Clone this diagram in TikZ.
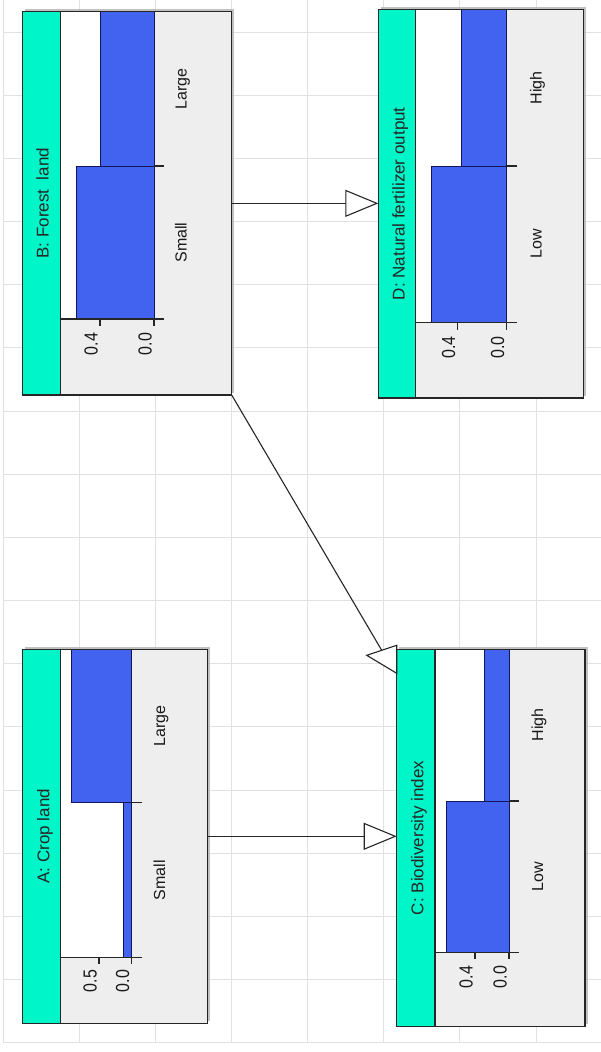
\documentclass[tikz,border=0pt]{standalone}
\usepackage{fontspec}
\setmainfont{Liberation Sans}
\usetikzlibrary{arrows.meta,shadows,calc}
\definecolor{mint}{RGB}{0,245,200}
\definecolor{barblue}{RGB}{66,99,240}
\definecolor{barline}{RGB}{20,20,90}
\definecolor{boxgrey}{RGB}{238,238,238}
\definecolor{gridgrey}{RGB}{225,225,225}
\newcommand{\tallnum}[1]{\scalebox{1}[1.18]{#1}}
\begin{document}
\begin{tikzpicture}[x=1pt,y=-1pt,
  gridline/.style={draw=gridgrey, line width=0.9pt},
  boxnode/.style={fill=boxgrey, draw=none, inner sep=0pt, outer sep=0pt,
     drop shadow={shadow xshift=2.5pt, shadow yshift=2.5pt, fill=black!30, opacity=0.8}},
  boxline/.style={draw=black!85, line width=1.4pt},
  bar/.style={fill=barblue, draw=barline, line width=1pt},
  axisline/.style={draw=black!85, line width=1.1pt},
  title/.style={rotate=90, anchor=base, inner sep=0pt, font=\fontsize{17}{17}\selectfont, text=black!85},
  lab/.style={rotate=90, anchor=base, inner sep=0pt, font=\fontsize{16}{16}\selectfont, text=black!90},
  tick/.style={rotate=90, anchor=base, inner sep=0pt, font=\fontsize{16}{16}\selectfont, text=black!90},
  conn/.style={draw=black!85, line width=1.1pt, -{Triangle[length=33pt, width=27pt, fill=white, line width=1.1pt]}},
  headline/.style={draw=black!85, line width=1.1pt, fill=white, line join=miter},
  connline/.style={draw=black!85, line width=1.1pt}
]
\useasboundingbox (0,0) rectangle (601,1052);
\fill[white] (0,0) rectangle (601,1052);
% grid
\foreach \i in {0,...,7} \draw[gridline] ({3.3+76.1*\i},0) -- ({3.3+76.1*\i},1042.7);
\foreach \j in {0,...,16} \draw[gridline] (3.3,{32+63.17*\j}) -- (601,{32+63.17*\j});

% ---------- B ----------
\node[boxnode, minimum width=209pt, minimum height=383.3pt, anchor=north west] (B) at (22.7,11.7) {};
\fill[white] (60.7,11.7) rectangle (154,319);
\fill[mint] (22.7,11.7) rectangle (60.7,395);
\draw[bar] (100,11.7) rectangle (154,166);
\draw[bar] (76,166) rectangle (154,319);
\draw[axisline] (60.7,319) -- (164,319);
\draw[axisline] (154,166) -- (164,166);
\draw[axisline] (100,319) -- (100,326);
\draw[axisline] (154,319) -- (154,326);
\draw[boxline] (60.7,11.7) -- (60.7,395);
\draw[boxline] (B.north west) rectangle (B.south east);
\node[title] (Bt) at (48.5,203.3) {B: Forest\ \ land};
\node[lab] (Bl) at (186.7,88.7) {Large};
\node[lab] (Bs) at (186.7,242.5) {Small};
\node[tick] (Bk1) at (97.5,344) {\tallnum{0.4}};
\node[tick] (Bk0) at (151.5,344) {\tallnum{0.0}};

% ---------- D ----------
\node[boxnode, minimum width=205pt, minimum height=388.7pt, anchor=north west] (D) at (378.3,9.3) {};
\fill[white] (415.7,9.3) rectangle (506.7,322.7);
\fill[mint] (378.3,9.3) rectangle (415.7,398);
\draw[bar] (461.7,9.3) rectangle (506.7,166);
\draw[bar] (431,166) rectangle (506.7,322.7);
\draw[axisline] (415.7,322.7) -- (516.7,322.7);
\draw[axisline] (506.7,166) -- (516.7,166);
\draw[axisline] (457.7,322.7) -- (457.7,329.7);
\draw[axisline] (506.7,322.7) -- (506.7,329.7);
\draw[boxline] (415.7,9.3) -- (415.7,398);
\draw[boxline] (D.north west) rectangle (D.south east);
\node[title] (Dt) at (404.5,203.7) {D: Natural fertilizer output};
\node[lab] (Dh) at (541.5,87.7) {High};
\node[lab] (Dl) at (541.5,244) {Low};
\node[tick] (Dk1) at (455,347.5) {\tallnum{0.4}};
\node[tick] (Dk0) at (504,347.5) {\tallnum{0.0}};

% ---------- A ----------
\node[boxnode, minimum width=184.6pt, minimum height=374pt, anchor=north west] (A) at (22.7,649.3) {};
\fill[white] (60.7,649.3) rectangle (131.7,957.3);
\fill[mint] (22.7,649.3) rectangle (60.7,1023.3);
\draw[bar] (71.7,649.3) rectangle (131.7,802.3);
\draw[bar] (123.3,802.3) rectangle (131.7,957.3);
\draw[axisline] (60.7,957.3) -- (141.7,957.3);
\draw[axisline] (131.7,802.3) -- (141.7,802.3);
\draw[axisline] (99,957.3) -- (99,964.3);
\draw[axisline] (131.7,957.3) -- (131.7,964.3);
\draw[boxline] (60.7,649.3) -- (60.7,1023.3);
\draw[boxline] (A.north west) rectangle (A.south east);
\node[title] (At) at (49.3,836.3) {A: Crop land};
\node[lab] (Al) at (165,726) {Large};
\node[lab] (As) at (165,880) {Small};
\node[tick] (Ak1) at (96.5,981) {\tallnum{0.5}};
\node[tick] (Ak0) at (129.2,981) {\tallnum{0.0}};

% ---------- C ----------
\node[boxnode, minimum width=188.3pt, minimum height=377.4pt, anchor=north west] (C) at (396.7,649.3) {};
\fill[white] (435,649.3) rectangle (509,952.3);
\fill[mint] (396.7,649.3) rectangle (435,1026.7);
\draw[bar] (484.3,649.3) rectangle (509,801);
\draw[bar] (446.7,801) rectangle (509,952.3);
\draw[axisline] (435,952.3) -- (519.3,952.3);
\draw[axisline] (509,801) -- (519.3,801);
\draw[axisline] (475,952.3) -- (475,959.3);
\draw[axisline] (509,952.3) -- (509,959.3);
\draw[boxline] (435,649.3) -- (435,1026.7);
\draw[boxline] (C.north west) rectangle (C.south east);
\node[title] (Ct) at (423.3,838) {C: Biodiversity index};
\node[lab] (Ch) at (543,725) {High};
\node[lab] (Cl) at (543,876.7) {Low};
\node[tick] (Ck1) at (472.5,977) {\tallnum{0.4}};
\node[tick] (Ck0) at (506.5,977) {\tallnum{0.0}};

% ---------- connectors ----------
\draw[conn] (B.east) -- (B.east -| D.west);
\draw[conn] (A.east) -- (A.east -| C.west);
\coordinate (Cin) at ([yshift=-24pt]C.north west);
\coordinate (Cbase) at ($(Cin)+(-15,-23)$);
\draw[connline] (B.south east) -- (Cbase);
\draw[headline] (Cin) -- ($(Cin)+(-30,-18)$) -- ($(Cin)+(0,-28)$) -- cycle;
\end{tikzpicture}
\end{document}
